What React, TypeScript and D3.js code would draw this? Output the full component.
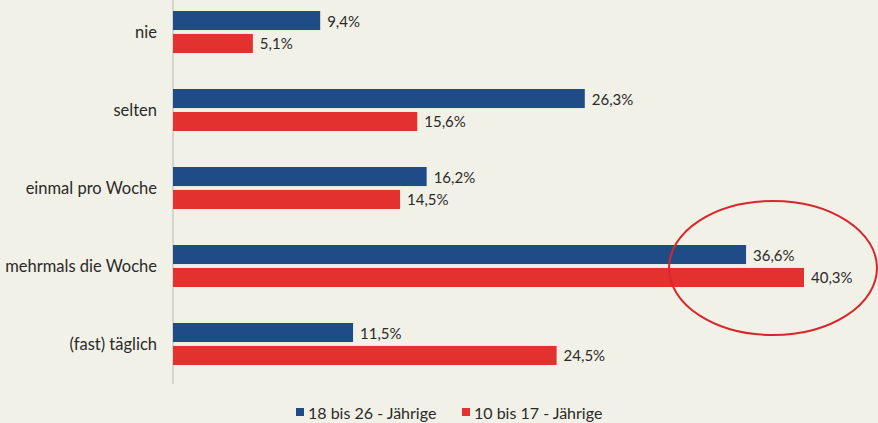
import React from "react";
import * as d3 from "d3";

const categories = ["nie", "selten", "einmal pro Woche", "mehrmals die Woche", "(fast) täglich"];
const series18to26 = [9.4, 26.3, 16.2, 36.6, 11.5];
const series10to17 = [5.1, 15.6, 14.5, 40.3, 24.5];
const seriesNames = ["18 bis 26 - Jährige", "10 bis 17 - Jährige"];
const seriesColors = ["#1f4c87", "#e3312f"];

const W = 878;
const H = 423;
const FONT = "Lato, 'Open Sans', sans-serif";

export default function App() {
  const x0 = 173;
  const x = d3.scaleLinear().domain([0, 40.3]).range([x0, 804]);
  const y = d3.scaleBand<string>().domain(categories).range([11, 365]).paddingInner(0.4615).paddingOuter(0);
  const inner = d3.scaleBand<number>().domain([0, 1]).range([0, y.bandwidth()]).paddingInner(0.17);
  const fmt = (v: number) => d3.format(".1f")(v).replace(".", ",") + "%";
  const all = [series18to26, series10to17];

  return (
    <div style={{ position: "absolute", left: 0, top: 0 }}>
      <svg width={W} height={H} style={{ display: "block", fontFamily: FONT }}>
        <rect x={0} y={0} width={W} height={H} fill="#f2f1e7" />
        <line x1={x0} x2={x0} y1={0} y2={384} stroke="#b9b8b0" strokeWidth={1} />
        {categories.map((c, i) => {
          const by = y(c)!;
          return (
            <g key={c}>
              <text x={157} y={by + y.bandwidth() / 2} textAnchor="end" dominantBaseline="central" fontSize={16.5} fill="#2a2a2a">
                {c}
              </text>
              {all.map((s, k) => {
                const yy = by + inner(k)!;
                return (
                  <g key={k}>
                    <rect x={x0} y={yy} width={x(s[i]) - x0} height={inner.bandwidth()} fill={seriesColors[k]} />
                    <text x={x(s[i]) + 7} y={yy + inner.bandwidth() / 2} dominantBaseline="central" fontSize={15} fill="#2a2a2a">
                      {fmt(s[i])}
                    </text>
                  </g>
                );
              })}
            </g>
          );
        })}
        <ellipse cx={773} cy={268} rx={104} ry={67} fill="none" stroke="#d8262b" strokeWidth={2} />
        {seriesNames.map((n, k) => {
          const lx = k === 0 ? 296 : 462;
          return (
            <g key={n}>
              <rect x={lx} y={408} width={8} height={8} fill={seriesColors[k]} />
              <text x={lx + 12} y={412} dominantBaseline="central" fontSize={16} fill="#2a2a2a">
                {n}
              </text>
            </g>
          );
        })}
      </svg>
    </div>
  );
}
